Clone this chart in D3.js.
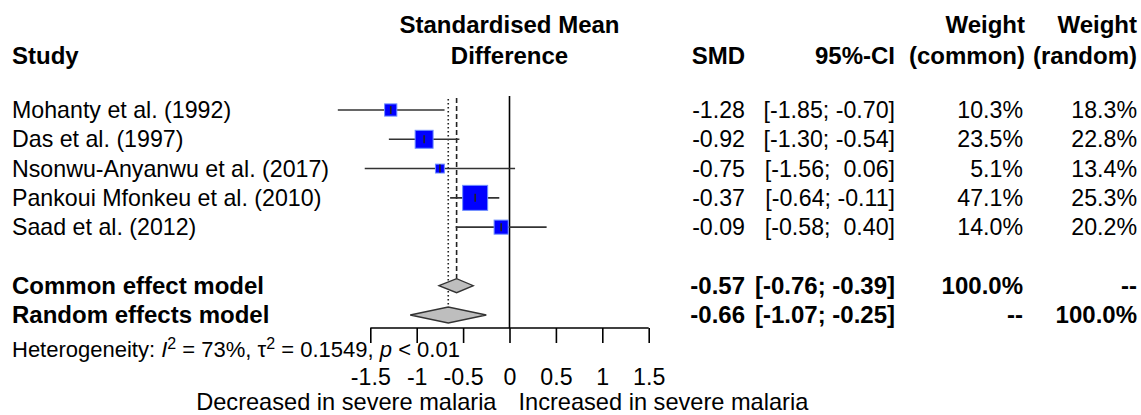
<!DOCTYPE html>
<html>
<head>
<meta charset="utf-8">
<script src="https://cdn.jsdelivr.net/npm/d3@7"></script>
<style>
  body { margin: 0; background: #fff; }
  text { font-family: 'Liberation Sans', Arial, sans-serif; fill: #000; white-space: pre; }
</style>
</head>
<body>
<div id="forest"></div>
<script>
const studies = [
  'Mohanty et al. (1992)',
  'Das et al. (1997)',
  'Nsonwu-Anyanwu et al. (2017)',
  'Pankoui Mfonkeu et al. (2010)',
  'Saad et al. (2012)'
]
const smd = [-1.28, -0.92, -0.75, -0.37, -0.09]
const lower = [-1.85, -1.30, -1.56, -0.64, -0.58]
const upper = [-0.70, -0.54, 0.06, -0.11, 0.40]
const weightCommon = [10.3, 23.5, 5.1, 47.1, 14.0]
const weightRandom = [18.3, 22.8, 13.4, 25.3, 20.2]

const models = ['Common effect model', 'Random effects model']
const modelEst = [-0.57, -0.66]
const modelLower = [-0.76, -1.07]
const modelUpper = [-0.39, -0.25]
const modelWeightCommon = ['100.0%', '--']
const modelWeightRandom = ['--', '100.0%']

const ticks = [-1.5, -1, -0.5, 0, 0.5, 1, 1.5]
const leftLabel = 'Decreased in severe malaria'
const rightLabel = 'Increased in severe malaria'

const width = 1141
const height = 415

const svg = d3
  .select('#forest')
  .append('svg')
  .attr('width', width)
  .attr('height', height)

const x = d3.scaleLinear().domain([-1.5, 1.5]).range([370.3, 648.7])
// row index -> y (row 5 is the blank gap)
const y = d3.scaleLinear().domain([0, 7]).range([110, 315])
const side = d3.scaleSqrt().domain([0, 47.1]).range([0, 24])

// plain hyphen, not the unicode minus d3.format gives
const fmt2 = v => v.toFixed(2)
const fmtW = d => d.toFixed(1) + '%'
const pad = v => (v < 0 ? fmt2(v) : ' ' + fmt2(v))
const ciText = (lo, hi) => '[' + pad(lo) + ';' + (hi < 0 ? ' ' : '  ') + fmt2(hi) + ']'

const fs = 23.2
const fsBold = 24
const colSMD = 745
const colCI = 895
const colWC = 1023
const colWR = 1137

// headers
const head = svg.append('g').style('font-weight', 'bold').style('font-size', fsBold + 'px')
head.append('text').attr('x', 12).attr('y', 56).attr('dy', '0.35em').text('Study')
head.append('text').attr('x', x(0)).attr('y', 25).attr('dy', '0.35em').attr('text-anchor', 'middle').text('Standardised Mean')
head.append('text').attr('x', x(0)).attr('y', 56).attr('dy', '0.35em').attr('text-anchor', 'middle').text('Difference')
head.append('text').attr('x', colSMD).attr('y', 56).attr('dy', '0.35em').attr('text-anchor', 'end').text('SMD')
head.append('text').attr('x', colCI).attr('y', 56).attr('dy', '0.35em').attr('text-anchor', 'end').text('95%-CI')
head.append('text').attr('x', colWC + 2).attr('y', 25).attr('dy', '0.35em').attr('text-anchor', 'end').text('Weight')
head.append('text').attr('x', colWC + 2).attr('y', 56).attr('dy', '0.35em').attr('text-anchor', 'end').text('(common)')
head.append('text').attr('x', colWR).attr('y', 25).attr('dy', '0.35em').attr('text-anchor', 'end').text('Weight')
head.append('text').attr('x', colWR).attr('y', 56).attr('dy', '0.35em').attr('text-anchor', 'end').text('(random)')

// study rows text
const rows = svg.append('g').style('font-size', fs + 'px')
studies.forEach(function(s, i) {
  const g = rows.append('g')
  g.append('text').attr('x', 12).attr('y', y(i)).attr('dy', '0.35em').text(s)
  g.append('text').attr('x', colSMD).attr('y', y(i)).attr('dy', '0.35em').attr('text-anchor', 'end').text(fmt2(smd[i]))
  g.append('text').attr('x', colCI).attr('y', y(i)).attr('dy', '0.35em').attr('text-anchor', 'end').text(ciText(lower[i], upper[i]))
  g.append('text').attr('x', colWC).attr('y', y(i)).attr('dy', '0.35em').attr('text-anchor', 'end').text(fmtW(weightCommon[i]))
  g.append('text').attr('x', colWR).attr('y', y(i)).attr('dy', '0.35em').attr('text-anchor', 'end').text(fmtW(weightRandom[i]))
})

// model rows text
const mrows = svg.append('g').style('font-size', fsBold + 'px').style('font-weight', 'bold')
models.forEach(function(m, j) {
  const yy = y(6 + j)
  mrows.append('text').attr('x', 12).attr('y', yy).attr('dy', '0.35em').text(m)
  mrows.append('text').attr('x', colSMD).attr('y', yy).attr('dy', '0.35em').attr('text-anchor', 'end').text(fmt2(modelEst[j]))
  mrows.append('text').attr('x', colCI).attr('y', yy).attr('dy', '0.35em').attr('text-anchor', 'end').text(ciText(modelLower[j], modelUpper[j]))
  mrows.append('text').attr('x', colWC).attr('y', yy).attr('dy', '0.35em').attr('text-anchor', 'end').text(modelWeightCommon[j])
  mrows.append('text').attr('x', colWR).attr('y', yy).attr('dy', '0.35em').attr('text-anchor', 'end').text(modelWeightRandom[j])
})

// heterogeneity
const het = svg.append('text').attr('x', 12).attr('y', 349).attr('dy', '0.35em').style('font-size', '22px')
het.append('tspan').text('Heterogeneity: ')
het.append('tspan').style('font-style', 'italic').text('I')
het.append('tspan').attr('dy', -8).style('font-size', '16px').text('2')
het.append('tspan').attr('dy', 8).text(' = 73%, \u03c4')
het.append('tspan').attr('dy', -8).style('font-size', '16px').text('2')
het.append('tspan').attr('dy', 8).text(' = 0.1549, ')
het.append('tspan').style('font-style', 'italic').text('p')
het.append('tspan').text(' < 0.01')

// reference lines
const axisY = 328
svg.append('line')
  .attr('x1', x(0)).attr('x2', x(0))
  .attr('y1', 96).attr('y2', axisY)
  .attr('stroke', '#000').attr('stroke-width', 1.6)

svg.append('line')
  .attr('x1', x(modelEst[0])).attr('x2', x(modelEst[0]))
  .attr('y1', 98).attr('y2', y(6) - 7)
  .attr('stroke', '#222').attr('stroke-width', 1.6)
  .attr('stroke-dasharray', '5,3')

svg.append('line')
  .attr('x1', x(modelEst[1])).attr('x2', x(modelEst[1]))
  .attr('y1', 99).attr('y2', y(7) - 8)
  .attr('stroke', '#222').attr('stroke-width', 1.6)
  .attr('stroke-dasharray', '1.6,2.4')

// CI lines and squares
const marks = svg.append('g')
studies.forEach(function(s, i) {
  const yy = y(i)
  marks.append('line')
    .attr('x1', x(lower[i])).attr('x2', x(upper[i]))
    .attr('y1', yy).attr('y2', yy)
    .attr('stroke', '#333').attr('stroke-width', 1.6)
  const sz = side(weightCommon[i]) + 1
  marks.append('rect')
    .attr('x', x(smd[i]) - sz / 2)
    .attr('y', yy - sz / 2)
    .attr('width', sz)
    .attr('height', sz)
    .attr('fill', '#0000ff')
    .attr('stroke', '#6f8fff')
    .attr('stroke-width', 1)
  marks.append('line')
    .attr('x1', x(smd[i])).attr('x2', x(smd[i]))
    .attr('y1', yy - 4).attr('y2', yy + 4)
    .attr('stroke', '#222').attr('stroke-width', 1.6)
})

// diamonds
models.forEach(function(m, j) {
  const yy = y(6 + j)
  const h = j === 0 ? 7 : 8
  const pts = [
    [x(modelLower[j]), yy],
    [x(modelEst[j]), yy - h],
    [x(modelUpper[j]), yy],
    [x(modelEst[j]), yy + h]
  ]
  svg.append('polygon')
    .attr('points', pts.map(p => p.join(',')).join(' '))
    .attr('fill', '#bebebe')
    .attr('stroke', '#333')
    .attr('stroke-width', 1.3)
})

// axis
const xAxis = d3.axisBottom(x).tickValues(ticks).tickSize(15).tickPadding(26)
const ax = svg.append('g')
  .attr('class', 'axis')
  .attr('transform', 'translate(0,' + axisY + ')')
  .call(xAxis)
ax.select('.domain').attr('d', 'M' + x(-1.5) + ',0H' + x(1.5)).attr('stroke', '#000').attr('stroke-width', 1.6)
ax.selectAll('.tick line').attr('stroke', '#000').attr('stroke-width', 1.6)
ax.selectAll('.tick text')
  .style('font-size', fs + 'px')
  .style('font-family', "'Liberation Sans', Arial, sans-serif")
  .attr('fill', '#000')
  .text(d => String(d))

svg.append('text').attr('x', x(0) - 13).attr('y', 402).attr('dy', '0.35em')
  .attr('text-anchor', 'end').style('font-size', '23.6px').text(leftLabel)
svg.append('text').attr('x', x(0) + 9).attr('y', 402).attr('dy', '0.35em')
  .attr('text-anchor', 'start').style('font-size', '23.6px').text(rightLabel)
</script>
</body>
</html>
